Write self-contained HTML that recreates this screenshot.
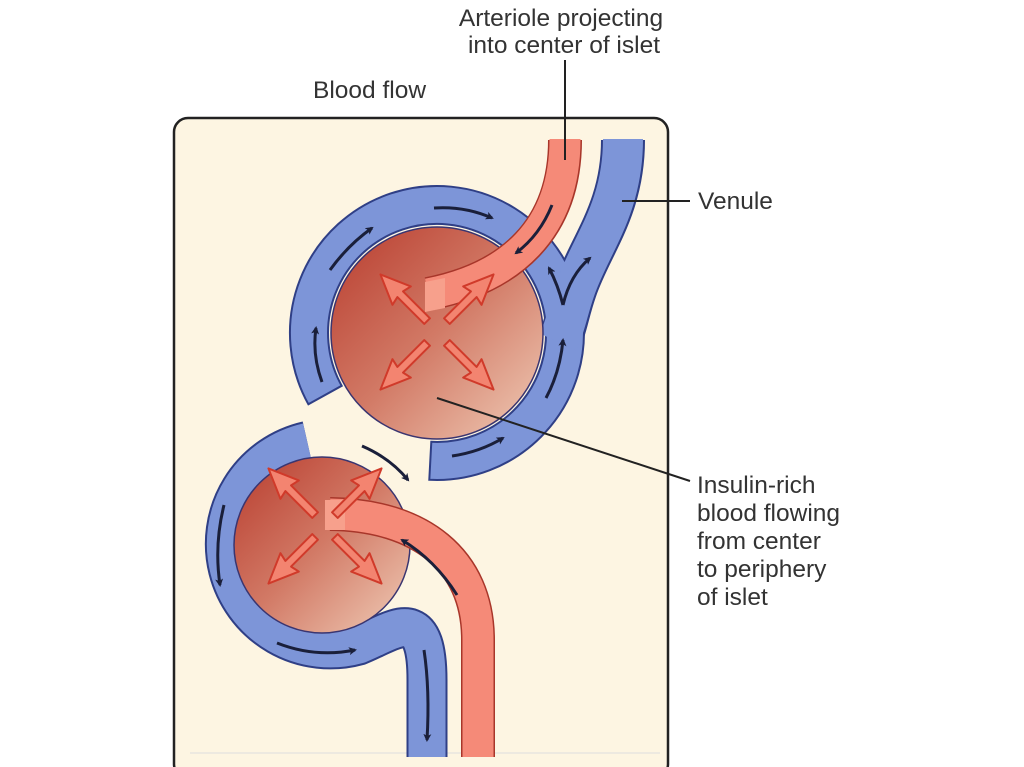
<!DOCTYPE html>
<html><head><meta charset="utf-8"><style>
html,body{margin:0;padding:0;background:#fff;width:1024px;height:767px;overflow:hidden}
svg{display:block}
text{font-family:"Liberation Sans",sans-serif;fill:#333;font-size:24.5px}
</style></head><body>
<svg width="1024" height="767" viewBox="0 0 1024 767">
<defs>
<linearGradient id="isl" x1="0" y1="0" x2="1" y2="1">
<stop offset="0" stop-color="#b83c2e"/><stop offset="0.5" stop-color="#d27a66"/><stop offset="1" stop-color="#f0cdb8"/>
</linearGradient>
<marker id="ah" markerWidth="8" markerHeight="8" refX="6" refY="4" orient="auto" markerUnits="userSpaceOnUse" viewBox="0 0 8 8">
<path d="M0,0 L8,4 L0,8 L2,4 Z" fill="#1a1f3a"/>
</marker>
<g id="arr"><polygon points="14,-4 52,-4 50,-13 80,0 50,13 52,4 14,4" fill="#f38470" stroke="#d03a2a" stroke-width="2" stroke-linejoin="round"/></g>
</defs>
<rect x="174" y="118" width="494" height="660" rx="14" fill="#fdf5e2" stroke="#222" stroke-width="2.5"/>
<line x1="190" y1="753" x2="660" y2="753" stroke="#ddd" stroke-width="1"/>

<path d="M623,140 C623,210 590,245 575,290 C568,310 566,325 560,340" fill="none" stroke="#2f3f86" stroke-width="44"/>
<path d="M308.4,404.3 A147,147 0 1 1 429.3,479.8 L431.3,441.8 A109,109 0 1 0 341.7,385.8 Z" fill="#7d95d8" stroke="#2f3f86" stroke-width="2"/>
<path d="M623,139 C623,210 590,245 575,290 C568,310 566,325 558,342" fill="none" stroke="#7d95d8" stroke-width="40"/>
<circle cx="437" cy="333" r="106" fill="url(#isl)" stroke="#3a3570" stroke-width="1.5"/>
<path d="M565,140 C565,230 510,278 428,294" fill="none" stroke="#a8362a" stroke-width="34"/>
<path d="M565,139 C565,230 510,278 428,294" fill="none" stroke="#f58a78" stroke-width="31"/>
<polygon points="425,282 445,278 445,308 425,312" fill="#f7a08c"/>

<path d="M307.2,441.5 A105,105 0 1 0 358.4,645.1 C392,632 427,600 427,680 L427,757" fill="none" stroke="#2f3f86" stroke-width="41"/>
<path d="M307.2,441.5 A105,105 0 1 0 358.4,645.1 C392,632 427,600 427,680 L427,757" fill="none" stroke="#7d95d8" stroke-width="37"/>
<circle cx="322" cy="545" r="88" fill="url(#isl)" stroke="#3a3570" stroke-width="1.5"/>
<path d="M478,757 L478,640 C478,560 420,515 330,514" fill="none" stroke="#a8362a" stroke-width="34"/>
<path d="M478,757 L478,640 C478,560 420,515 330,514" fill="none" stroke="#f58a78" stroke-width="31"/>
<polygon points="325,500 345,500 345,530 325,530" fill="#f7a08c"/>

<use href="#arr" transform="translate(437,331) rotate(-135)"/>
<use href="#arr" transform="translate(437,331) rotate(-45)"/>
<use href="#arr" transform="translate(437,333) rotate(135)"/>
<use href="#arr" transform="translate(437,333) rotate(45)"/>
<use href="#arr" transform="translate(325,525) rotate(-135)"/>
<use href="#arr" transform="translate(325,525) rotate(-45)"/>
<use href="#arr" transform="translate(325,527) rotate(135)"/>
<use href="#arr" transform="translate(325,527) rotate(45)"/>

<g fill="none" stroke="#1a1f3a" stroke-width="3" marker-end="url(#ah)">
<path d="M322,382 Q312,355 316,328"/>
<path d="M330,270 Q348,245 372,228"/>
<path d="M434,208 Q465,206 492,218"/>
<path d="M546,398 Q560,372 563,340"/>
<path d="M452,456 Q480,452 503,438"/>
<path d="M563,305 Q558,285 549,268"/>
<path d="M563,305 Q570,275 590,258"/>
<path d="M552,205 Q540,235 516,253"/>
<path d="M362,446 Q390,458 408,480"/>
<path d="M224,505 Q214,545 220,585"/>
<path d="M277,643 Q315,658 355,650"/>
<path d="M424,650 Q430,690 427,740"/>
<path d="M457,595 Q435,560 402,540"/>
</g>

<line x1="565" y1="60" x2="565" y2="160" stroke="#222" stroke-width="2"/>
<line x1="622" y1="201" x2="690" y2="201" stroke="#222" stroke-width="2"/>
<line x1="437" y1="398" x2="690" y2="481" stroke="#222" stroke-width="2"/>
<text x="561" y="26" text-anchor="middle">Arteriole projecting</text>
<text x="564" y="53" text-anchor="middle">into center of islet</text>
<text x="313" y="98">Blood flow</text>
<text x="698" y="209">Venule</text>
<text x="697" y="493">Insulin-rich</text>
<text x="697" y="521">blood flowing</text>
<text x="697" y="549">from center</text>
<text x="697" y="577">to periphery</text>
<text x="697" y="605">of islet</text>
</svg>
</body></html>
